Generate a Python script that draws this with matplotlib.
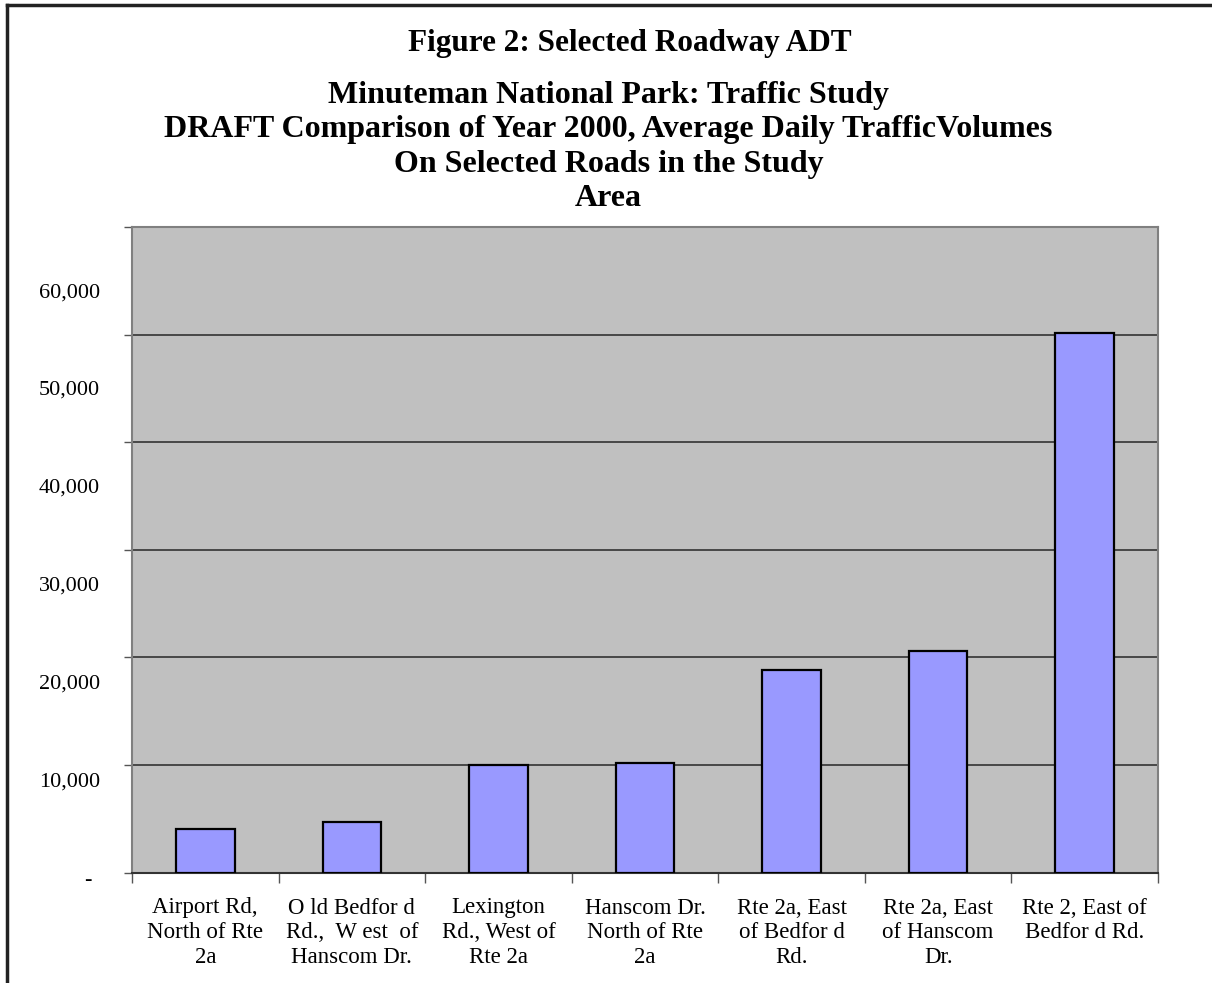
import matplotlib
matplotlib.use("Agg")
import matplotlib.pyplot as plt
import matplotlib.transforms as mtransforms
from matplotlib.lines import Line2D

# data
roads = [
    "Airport Rd,\nNorth of Rte\n2a",
    "O ld Bedfor d\nRd.,  W est  of\nHanscom Dr.",
    "Lexington\nRd., West of\nRte 2a",
    "Hanscom Dr.\nNorth of Rte\n2a",
    "Rte 2a, East\nof Bedfor d\nRd.",
    "Rte 2a, East\nof Hanscom\nDr.",
    "Rte 2, East of\nBedfor d Rd.",
]
adt = [4000, 4650, 10000, 10200, 18800, 20600, 50150]
y_ticks = [0, 10000, 20000, 30000, 40000, 50000, 60000]
y_labels = ["-", "10,000", "20,000", "30,000", "40,000", "50,000", "60,000"]

title = "Figure 2: Selected Roadway ADT"
subtitle = ("Minuteman National Park: Traffic Study\n"
            "DRAFT Comparison of Year 2000, Average Daily TrafficVolumes\n"
            "On Selected Roads in the Study\n"
            "Area")

serif = "Liberation Serif"

fig = plt.figure(figsize=(12.12, 9.83), dpi=100)
ax = fig.add_axes([132 / 1212, 1 - 872.5 / 983, 1026 / 1212, 645.5 / 983])

x = list(range(len(roads)))
ax.bar(x, adt, width=0.4, color="#9999FF", edgecolor="black", linewidth=1.6, zorder=3)

ax.set_facecolor("#C0C0C0")
ax.set_xlim(-0.5, len(roads) - 0.5)
ax.set_ylim(0, 60000)

# gridlines
ax.set_yticks(y_ticks)
ax.set_yticklabels([""] * len(y_ticks))
ax.yaxis.grid(True, color="#333333", linewidth=1.2, zorder=1)
ax.tick_params(axis="y", direction="out", length=6, width=1, color="#555555")

# category labels, tick marks sit between categories
ax.set_xticks(x)
ax.set_xticklabels(roads, fontfamily=serif, fontsize=16.5, linespacing=1.22)
ax.tick_params(axis="x", which="major", length=0, pad=18)
ax.set_xticks([i - 0.5 for i in range(len(roads) + 1)], minor=True)
ax.tick_params(axis="x", which="minor", direction="out", length=7, width=1, color="#555555")

for side in ["top", "right", "left"]:
    ax.spines[side].set_color("#808080")
    ax.spines[side].set_linewidth(1.5)
ax.spines["bottom"].set_color("#333333")
ax.spines["bottom"].set_linewidth(1.5)

# value labels sit a little off the gridlines, as in the reference
trans = mtransforms.blended_transform_factory(ax.transAxes, ax.transData)
for v, lab in zip(y_ticks, y_labels):
    ypos = -700 + v / 10000 * 9100
    if lab == "-":
        ax.text(-0.043, ypos, lab, transform=trans, ha="center", va="center",
                fontfamily=serif, fontsize=16)
    else:
        ax.text(-0.031, ypos, lab, transform=trans, ha="right", va="center",
                fontfamily=serif, fontsize=16)

fig.text(0.52, 1 - 43 / 983, title, ha="center", va="center",
         fontfamily=serif, fontweight="bold", fontsize=22.5)
fig.text(0.502, 1 - 147 / 983, subtitle, ha="center", va="center",
         fontfamily=serif, fontweight="bold", fontsize=23, linespacing=1.25)

# frame round the figure
fig.add_artist(Line2D([7 / 1212, 1], [1 - 5 / 983, 1 - 5 / 983], color="#222222", linewidth=2.5))
fig.add_artist(Line2D([7 / 1212, 7 / 1212], [0, 1 - 5 / 983], color="#222222", linewidth=2.5))

fig.savefig("out.png", dpi=100)
